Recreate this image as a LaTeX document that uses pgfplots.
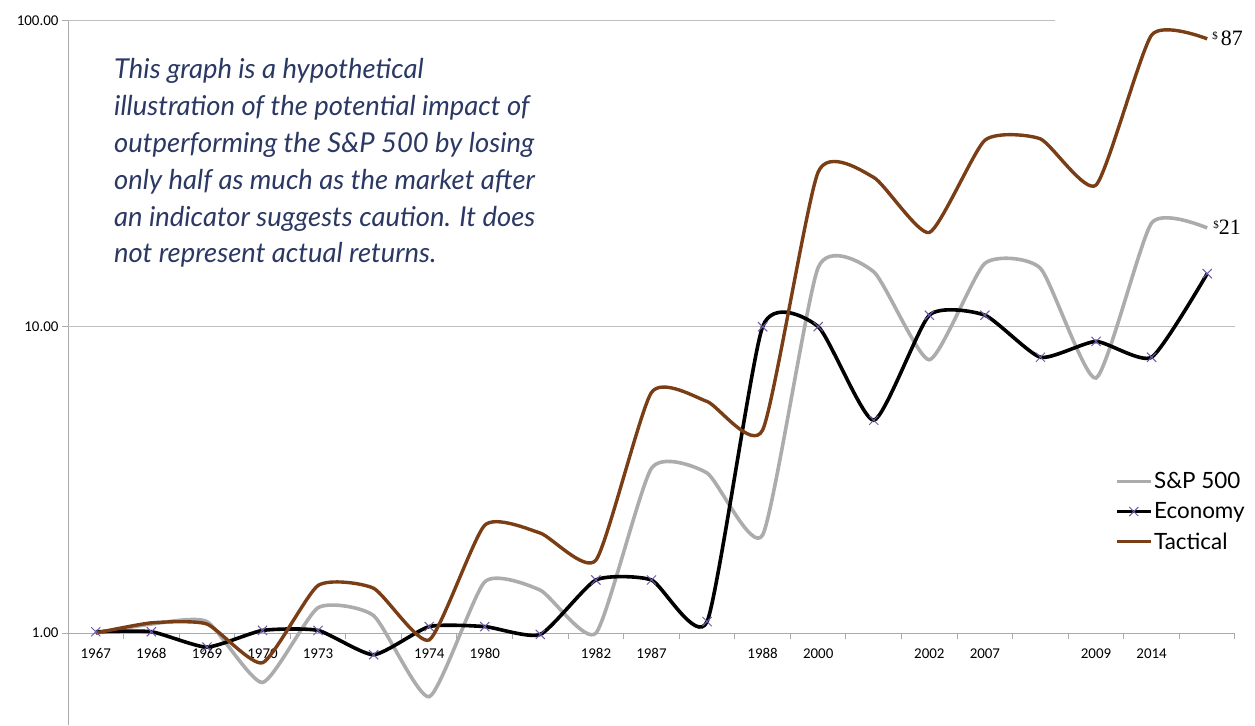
\documentclass[border=0pt]{standalone}
\usepackage{fontspec}
\setmainfont{Carlito}
\newfontfamily\lato{Lato}
\newfontfamily\seriffont{Liberation Serif}
\usepackage{pgfplots}
\pgfplotsset{compat=1.18}
\definecolor{axisgray}{RGB}{170,170,170}
\definecolor{gridgray}{RGB}{190,190,190}
\definecolor{spgray}{RGB}{172,172,172}
\definecolor{tactbrown}{RGB}{122,62,22}
\definecolor{markpurple}{RGB}{110,90,165}
\definecolor{textblue}{RGB}{43,56,100}

\pgfplotstableread{
x  sp     econ   tact
0  1.00   1.01   1.00
1  1.07   1.01   1.08
2  1.09   0.90   1.07
3  0.69   1.02   0.80
4  1.21   1.02   1.43
5  1.14   0.85   1.40
6  0.62   1.05   0.95
7  1.47   1.05   2.25
8  1.38   0.99   2.12
9  1.00   1.49   1.73
10 3.45   1.49   6.10
11 3.33   1.09   5.70
12 2.09   10.0   4.60
13 15.6   10.0   32.0
14 15.1   4.95   30.7
15 7.8    10.9   20.3
16 16.1   10.9   40.6
17 15.5   7.95   41.0
18 6.8    8.95   29.0
19 21.8   7.95   89.5
20 21.0   14.9   87.0
}\datatable

\begin{document}
\begin{tikzpicture}
\path[use as bounding box] (0,0) rectangle (1255bp,726bp);
\begin{axis}[
  at={(68bp,0.7bp)}, anchor=south west,
  scale only axis, width=1167bp, height=705bp,
  ymode=log, ymin=0.5, ymax=100, xmin=-0.5, xmax=20.5,
  axis y line*=left, axis x line*=middle,
  axis line style={draw=axisgray, line width=1bp},
  ytick={1,10,100}, yticklabels={1.00,10.00,100.00},
  yminorticks=false,
  xtick={-0.5,0.5,...,20.5}, xticklabels={},
  extra x ticks={0,1,...,20},
  extra x tick labels={1967,1968,1969,1970,1973,,1974,1980,,1982,1987,,1988,2000,,2002,2007,,2009,2014,},
  extra x tick style={major tick length=0pt, xticklabel style={yshift=-12bp}},
  tick align=outside, major tick length=6bp,
  tick style={draw=axisgray, line width=1bp},
  ticklabel style={font=\fontsize{15}{15}\selectfont, text=black},
  clip=false,
  legend style={at={(0.897,0.361)}, anchor=north west, draw=none, fill=none,
    font=\lato\fontsize{22.5}{22.5}\selectfont, row sep=9.5bp, inner sep=0pt,
    nodes={inner sep=1.5bp}},
  legend cell align=left,
  legend image code/.code={\draw[mark repeat=2,mark phase=2,#1] plot coordinates {(0bp,0bp) (17bp,0bp) (34bp,0bp)};},
]
\draw[gridgray, line width=1bp] (axis cs:-0.5,10) -- (axis cs:20.5,10);
\draw[gridgray, line width=1bp] (axis cs:-0.5,100) -- (axis cs:17.26,100);
\addplot[spgray, line width=3.6bp, smooth, tension=0.34, no markers] table[x=x, y=sp] {\datatable};
\addlegendentry{S\&P 500}
\addplot[black, line width=3.6bp, smooth, tension=0.34, mark=x, mark size=6.5bp,
  mark options={draw=markpurple, line width=1bp, solid}] table[x=x, y=econ] {\datatable};
\addlegendentry{Economy}
\addplot[tactbrown, line width=3.4bp, smooth, tension=0.34, no markers] table[x=x, y=tact] {\datatable};
\addlegendentry{Tactical}
\node[anchor=base west, inner sep=0pt, font=\seriffont\fontsize{22}{22}\selectfont, text=black]
  at (axis cs:20,87) [xshift=5bp, yshift=-7bp] {{\fontsize{11}{11}\selectfont\raisebox{6bp}{\$}}\kern3bp 87};
\node[anchor=base west, inner sep=0pt, font=\seriffont\fontsize{22}{22}\selectfont, text=black]
  at (axis cs:20,21) [xshift=6bp, yshift=-7bp] {{\fontsize{11}{11}\selectfont\raisebox{6bp}{\$}}21};
\end{axis}
\begin{scope}[every node/.style={anchor=base west, inner sep=0pt, text=textblue,
   font=\lato\itshape\fontsize{27.5}{27.5}\selectfont}]
\node at (114bp,647bp) {This graph is a hypothetical};
\node at (114bp,610.2bp) {illustration of the potential impact of};
\node at (114bp,573.4bp) {outperforming the S\&P 500 by losing};
\node at (114bp,536.6bp) {only half as much as the market after};
\node at (114bp,499.8bp) {an indicator suggests caution. It does};
\node at (114bp,463bp) {not represent actual returns.};
\end{scope}
\end{tikzpicture}
\end{document}
